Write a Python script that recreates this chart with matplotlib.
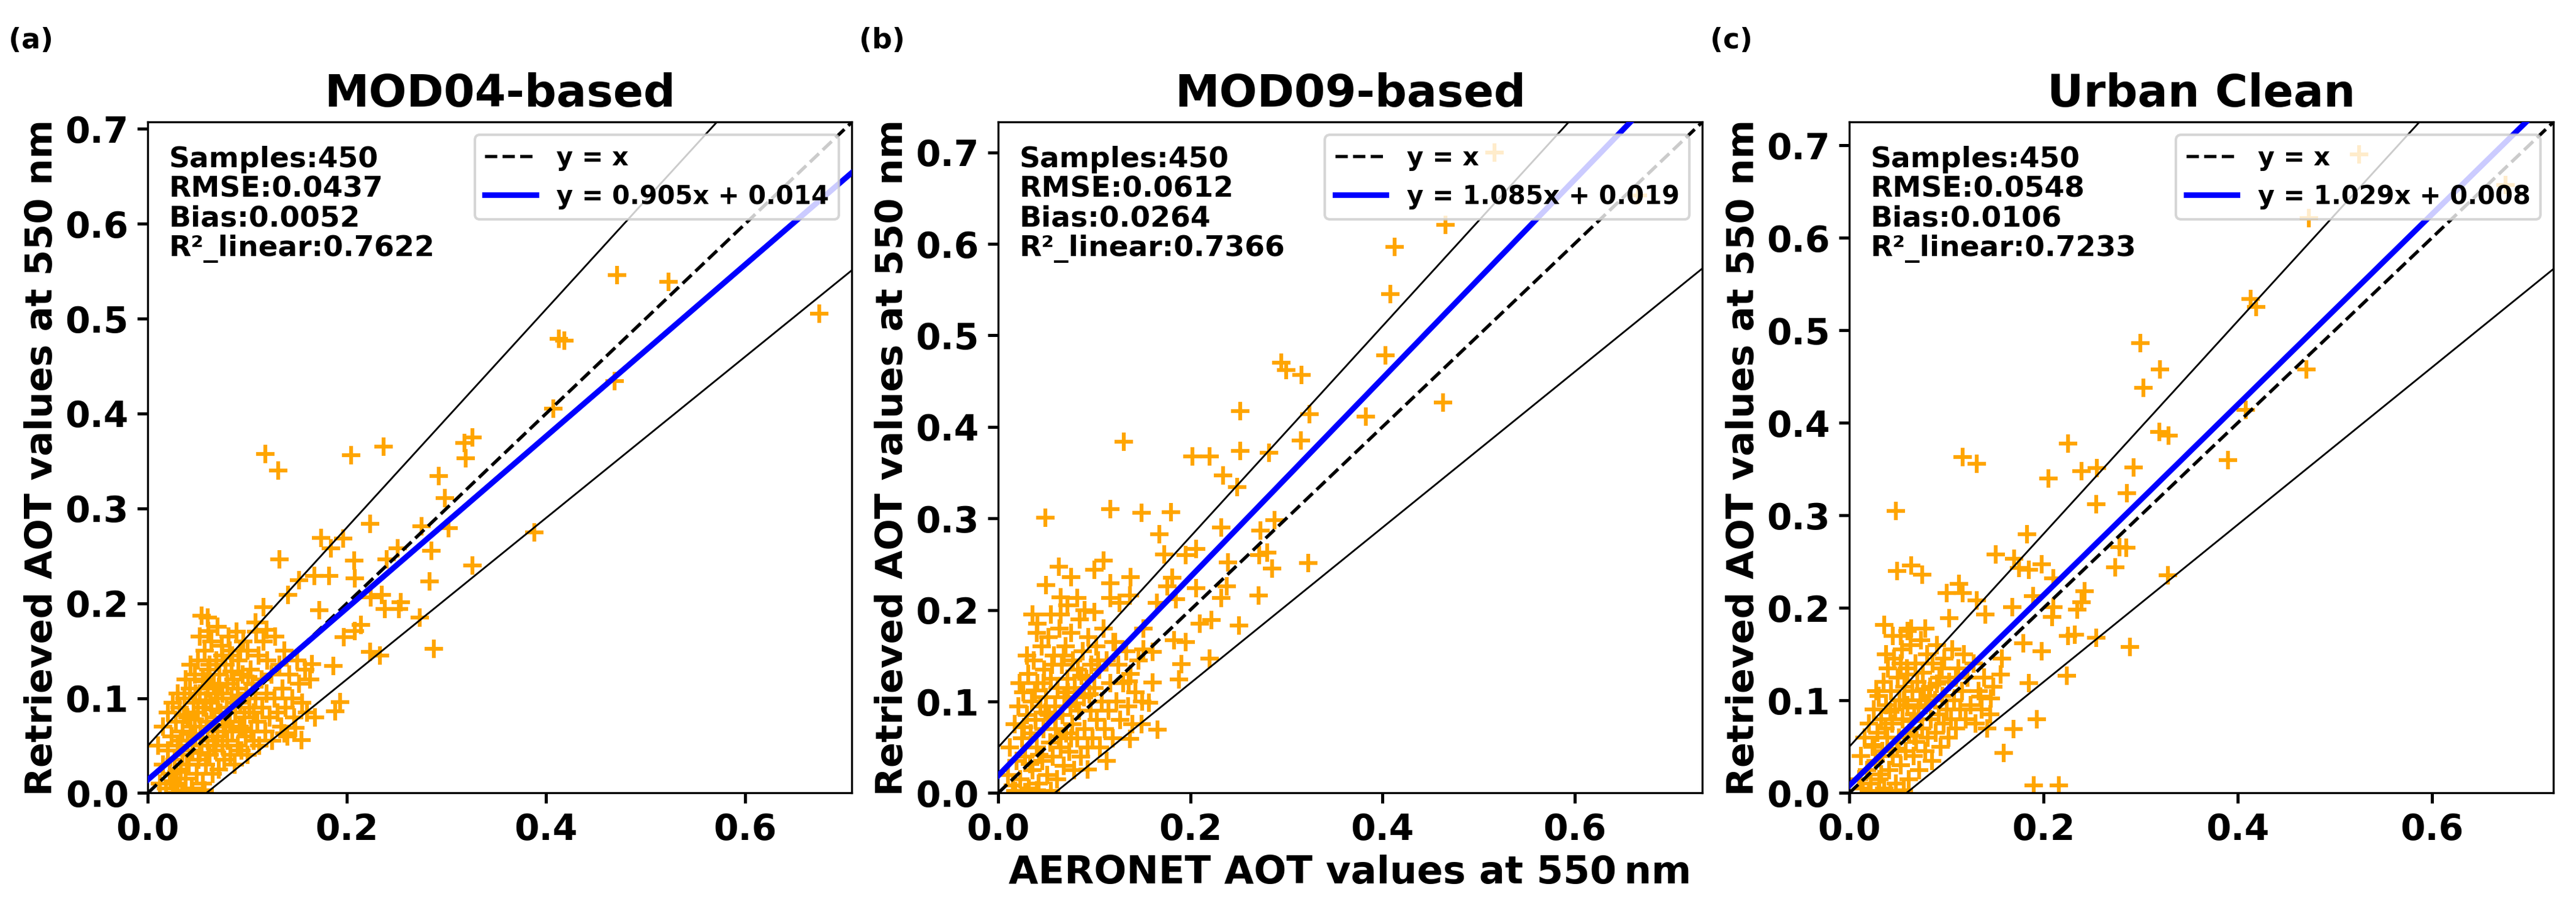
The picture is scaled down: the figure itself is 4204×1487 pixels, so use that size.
import matplotlib
matplotlib.use("Agg")
import matplotlib.pyplot as plt
import numpy as np

titles = ["MOD04-based", "MOD09-based", "Urban Clean"]
panel_tags = ["(a)", "(b)", "(c)"]
samples = [450, 450, 450]
rmse = ["0.0437", "0.0612", "0.0548"]
bias = ["0.0052", "0.0264", "0.0106"]
r2 = ["0.7622", "0.7366", "0.7233"]
slopes = [0.905, 1.085, 1.029]
intercepts = [0.014, 0.019, 0.008]
axis_max = [0.707, 0.733, 0.725]

# ---- panel (a) points ----
a_pts = [(0.118,0.357),(0.131,0.340),(0.204,0.356),(0.237,0.365),(0.318,0.369),(0.326,0.375),(0.319,0.353),
(0.292,0.334),(0.298,0.311),(0.223,0.284),(0.275,0.281),(0.302,0.279),(0.388,0.275),(0.174,0.269),(0.196,0.268),
(0.184,0.258),(0.251,0.258),(0.285,0.255),(0.132,0.246),(0.207,0.245),(0.240,0.246),(0.326,0.240),(0.167,0.229),
(0.182,0.229),(0.208,0.226),(0.152,0.224),(0.283,0.223),(0.141,0.209),(0.224,0.206),(0.235,0.209),(0.254,0.201),
(0.238,0.194),(0.252,0.194),(0.172,0.193),(0.116,0.196),(0.054,0.187),(0.273,0.185),(0.214,0.177),(0.208,0.171),
(0.108,0.180),(0.119,0.172),(0.061,0.171),(0.197,0.164),(0.287,0.152),(0.223,0.149),(0.233,0.145),(0.186,0.134),
(0.165,0.136),(0.193,0.096),(0.188,0.086),(0.168,0.080),(0.154,0.056),(0.148,0.069),(0.137,0.063),
(0.471,0.546),(0.523,0.539),(0.413,0.479),(0.418,0.477),(0.469,0.434),(0.407,0.405),(0.674,0.505),
(0.012,0.010),(0.015,0.030),(0.018,0.005),(0.020,0.045),(0.022,0.020),(0.024,0.060),(0.025,0.012),(0.027,0.035),
(0.028,0.075),(0.030,0.050),(0.030,0.008),(0.032,0.090),(0.033,0.025),(0.035,0.065),(0.035,0.040),(0.037,0.100),
(0.038,0.015),(0.040,0.080),(0.040,0.055),(0.041,0.030),(0.042,0.110),(0.043,0.070),(0.044,0.005),(0.045,0.045),
(0.046,0.095),(0.047,0.125),(0.048,0.060),(0.049,0.020),(0.050,0.085),(0.050,0.140),(0.051,0.035),(0.052,0.105),
(0.053,0.070),(0.054,0.050),(0.055,0.120),(0.055,0.010),(0.056,0.090),(0.057,0.150),(0.058,0.030),(0.059,0.075),
(0.060,0.110),(0.060,0.055),(0.061,0.130),(0.062,0.040),(0.063,0.095),(0.064,0.160),(0.065,0.065),(0.065,0.020),
(0.066,0.115),(0.067,0.080),(0.068,0.045),(0.069,0.140),(0.070,0.100),(0.070,0.060),(0.071,0.025),(0.072,0.125),
(0.073,0.085),(0.074,0.155),(0.075,0.050),(0.075,0.105),(0.076,0.070),(0.077,0.035),(0.078,0.135),(0.079,0.090),
(0.080,0.115),(0.080,0.055),(0.081,0.165),(0.082,0.075),(0.083,0.040),(0.084,0.100),(0.085,0.145),(0.085,0.065),
(0.086,0.120),(0.087,0.030),(0.088,0.085),(0.089,0.170),(0.090,0.050),(0.090,0.110),(0.091,0.140),(0.092,0.070),
(0.093,0.095),(0.094,0.045),(0.095,0.125),(0.096,0.160),(0.097,0.080),(0.098,0.060),(0.099,0.105),(0.100,0.150),
(0.100,0.040),(0.102,0.090),(0.103,0.130),(0.104,0.065),(0.105,0.115),(0.106,0.055),(0.108,0.100),(0.109,0.170),
(0.110,0.075),(0.111,0.145),(0.112,0.050),(0.114,0.120),(0.115,0.090),(0.116,0.160),(0.118,0.065),(0.119,0.105),
(0.120,0.140),(0.122,0.080),(0.124,0.125),(0.125,0.055),(0.127,0.100),(0.128,0.165),(0.130,0.085),(0.132,0.135),
(0.134,0.070),(0.135,0.110),(0.137,0.150),(0.138,0.090),(0.140,0.060),(0.142,0.125),(0.145,0.100),(0.147,0.080),
(0.150,0.140),(0.152,0.115),(0.155,0.095),(0.158,0.130),(0.160,0.085),(0.163,0.120),(0.010,0.050),(0.015,0.070),
(0.020,0.085),(0.026,0.000),(0.034,0.002),(0.045,0.002),(0.057,0.003),(0.038,0.120),(0.043,0.135),(0.070,0.175),
(0.060,0.185),(0.052,0.165),(0.030,0.105),(0.025,0.095),
(0.033,0.055),(0.047,0.078),(0.058,0.098),(0.064,0.088),(0.071,0.112),(0.078,0.072),(0.084,0.128),(0.066,0.050),
(0.052,0.042),(0.044,0.062),(0.039,0.030),(0.057,0.118),(0.062,0.135),(0.075,0.145),(0.088,0.095),(0.095,0.068),
(0.101,0.122),(0.093,0.150),(0.082,0.150),(0.068,0.105),(0.036,0.082),(0.029,0.022),(0.048,0.105),(0.106,0.085)]

# ---- panel (b) points ----
b_pts = [(0.049,0.301),(0.117,0.310),(0.149,0.306),(0.180,0.307),(0.131,0.384),(0.202,0.368),(0.220,0.368),
(0.252,0.417),(0.252,0.374),(0.234,0.347),(0.249,0.334),(0.282,0.372),(0.295,0.470),(0.300,0.462),(0.316,0.457),
(0.324,0.414),(0.315,0.385),(0.383,0.411),(0.403,0.478),(0.408,0.545),(0.413,0.597),(0.466,0.621),(0.463,0.427),
(0.517,0.700),(0.666,0.653),
(0.168,0.283),(0.232,0.290),(0.273,0.287),(0.288,0.298),(0.173,0.261),(0.195,0.260),(0.206,0.267),(0.239,0.252),
(0.272,0.260),(0.280,0.263),(0.285,0.245),(0.323,0.251),(0.063,0.247),(0.100,0.244),(0.110,0.254),(0.076,0.236),
(0.138,0.236),(0.050,0.227),(0.117,0.229),(0.181,0.235),(0.176,0.226),(0.206,0.224),(0.238,0.226),(0.232,0.213),
(0.271,0.216),(0.065,0.214),(0.082,0.213),(0.117,0.213),(0.137,0.216),(0.126,0.208),(0.165,0.208),(0.185,0.212),
(0.036,0.195),(0.100,0.198),(0.065,0.195),(0.041,0.185),(0.210,0.185),(0.222,0.189),(0.251,0.183),(0.151,0.180),
(0.183,0.167),(0.195,0.165),(0.122,0.165),(0.151,0.157),(0.161,0.154),(0.191,0.141),(0.220,0.147),(0.161,0.121),
(0.188,0.124),(0.157,0.099),(0.136,0.122),(0.149,0.075),(0.166,0.069),(0.137,0.059),(0.113,0.035),(0.093,0.026),
(0.010,0.020),(0.012,0.050),(0.015,0.008),(0.017,0.075),(0.019,0.035),(0.021,0.095),(0.023,0.015),(0.025,0.060),
(0.026,0.110),(0.028,0.040),(0.030,0.085),(0.031,0.130),(0.032,0.005),(0.034,0.065),(0.035,0.100),(0.036,0.025),
(0.037,0.145),(0.039,0.080),(0.040,0.050),(0.041,0.120),(0.042,0.010),(0.044,0.095),(0.045,0.160),(0.046,0.035),
(0.047,0.070),(0.048,0.135),(0.050,0.105),(0.051,0.020),(0.052,0.170),(0.053,0.085),(0.054,0.055),(0.055,0.125),
(0.057,0.040),(0.058,0.150),(0.059,0.095),(0.060,0.070),(0.061,0.015),(0.062,0.115),(0.064,0.180),(0.065,0.050),
(0.066,0.140),(0.067,0.085),(0.068,0.030),(0.069,0.105),(0.070,0.160),(0.071,0.065),(0.072,0.125),(0.074,0.045),
(0.075,0.095),(0.076,0.175),(0.077,0.075),(0.078,0.145),(0.079,0.025),(0.080,0.115),(0.082,0.060),(0.083,0.135),
(0.084,0.090),(0.085,0.190),(0.086,0.040),(0.088,0.155),(0.089,0.105),(0.090,0.070),(0.092,0.125),(0.093,0.050),
(0.094,0.170),(0.096,0.090),(0.097,0.140),(0.098,0.060),(0.100,0.115),(0.102,0.160),(0.103,0.080),(0.105,0.135),
(0.106,0.050),(0.108,0.100),(0.110,0.180),(0.111,0.070),(0.113,0.145),(0.115,0.090),(0.117,0.120),(0.119,0.060),
(0.120,0.165),(0.123,0.100),(0.125,0.140),(0.127,0.080),(0.130,0.120),(0.133,0.155),(0.135,0.095),(0.138,0.130),
(0.140,0.075),(0.143,0.110),(0.146,0.145),(0.150,0.100),(0.018,0.002),(0.028,0.001),(0.040,0.003),(0.055,0.002),
(0.022,0.120),(0.030,0.150),(0.040,0.175),(0.055,0.195),(0.072,0.205),(0.090,0.200),
(0.027,0.072),(0.038,0.112),(0.049,0.088),(0.056,0.140),(0.063,0.062),(0.073,0.110),(0.081,0.098),(0.087,0.128),
(0.043,0.042),(0.033,0.032),(0.059,0.082),(0.068,0.150),(0.095,0.108),(0.104,0.145),(0.076,0.060),(0.047,0.120)]

# ---- panel (c) points ----
c_pts = [(0.048,0.305),(0.117,0.363),(0.131,0.356),(0.049,0.240),(0.064,0.246),(0.075,0.236),(0.036,0.182),
(0.053,0.170),(0.064,0.178),(0.078,0.178),(0.100,0.216),(0.113,0.226),(0.117,0.216),(0.131,0.208),(0.103,0.189),
(0.140,0.193),(0.151,0.258),(0.170,0.253),(0.175,0.243),(0.185,0.241),(0.198,0.247),(0.183,0.280),(0.205,0.340),
(0.225,0.378),(0.239,0.348),(0.255,0.351),(0.293,0.352),(0.254,0.312),(0.286,0.324),(0.300,0.486),(0.320,0.458),
(0.303,0.438),(0.319,0.390),(0.329,0.386),(0.390,0.360),(0.408,0.414),(0.413,0.534),(0.419,0.525),(0.471,0.458),
(0.473,0.621),(0.525,0.690),(0.676,0.657),(0.210,0.232),(0.189,0.213),(0.210,0.201),(0.209,0.190),(0.235,0.198),
(0.242,0.218),(0.239,0.206),(0.274,0.244),(0.278,0.266),(0.285,0.265),(0.328,0.235),(0.168,0.201),(0.179,0.162),
(0.198,0.153),(0.225,0.170),(0.232,0.171),(0.254,0.168),(0.289,0.158),(0.224,0.127),(0.185,0.119),(0.193,0.080),
(0.159,0.043),(0.169,0.069),(0.190,0.008),(0.216,0.008),(0.157,0.145),(0.156,0.128),(0.146,0.102),(0.135,0.104),
(0.010,0.015),(0.012,0.040),(0.014,0.005),(0.016,0.060),(0.018,0.025),(0.020,0.075),(0.022,0.010),(0.024,0.050),
(0.025,0.090),(0.027,0.035),(0.029,0.065),(0.030,0.105),(0.031,0.015),(0.033,0.080),(0.034,0.045),(0.035,0.120),
(0.036,0.005),(0.038,0.095),(0.039,0.060),(0.040,0.135),(0.041,0.025),(0.043,0.110),(0.044,0.075),(0.045,0.040),
(0.046,0.145),(0.047,0.090),(0.048,0.010),(0.050,0.125),(0.051,0.060),(0.052,0.100),(0.053,0.030),(0.054,0.155),
(0.055,0.080),(0.057,0.115),(0.058,0.045),(0.059,0.135),(0.060,0.095),(0.061,0.015),(0.062,0.065),(0.063,0.160),
(0.065,0.110),(0.066,0.040),(0.067,0.085),(0.068,0.140),(0.069,0.055),(0.070,0.120),(0.072,0.025),(0.073,0.100),
(0.074,0.165),(0.075,0.070),(0.076,0.130),(0.078,0.045),(0.079,0.095),(0.080,0.150),(0.081,0.060),(0.083,0.115),
(0.084,0.080),(0.085,0.035),(0.086,0.140),(0.088,0.100),(0.089,0.065),(0.090,0.160),(0.092,0.085),(0.093,0.125),
(0.094,0.050),(0.096,0.105),(0.097,0.075),(0.098,0.145),(0.100,0.090),(0.102,0.060),(0.103,0.120),(0.105,0.080),
(0.106,0.155),(0.108,0.100),(0.110,0.070),(0.112,0.135),(0.114,0.090),(0.116,0.110),(0.118,0.150),(0.120,0.080),
(0.122,0.125),(0.125,0.095),(0.128,0.140),(0.130,0.075),(0.133,0.110),(0.136,0.090),(0.139,0.125),(0.142,0.070),
(0.145,0.085),(0.148,0.115),(0.020,0.002),(0.030,0.001),(0.042,0.002),(0.056,0.003),(0.045,0.170),(0.060,0.175),
(0.028,0.110),(0.038,0.150),
(0.026,0.052),(0.037,0.070),(0.049,0.048),(0.056,0.100),(0.064,0.078),(0.071,0.092),(0.082,0.105),(0.090,0.118),
(0.042,0.088),(0.033,0.020),(0.060,0.128),(0.077,0.112),(0.095,0.135),(0.067,0.062),(0.053,0.140),(0.110,0.125)]

all_pts = [a_pts, b_pts, c_pts]

plt.rcParams['font.family'] = ['DejaVu Sans']
plt.rcParams['font.weight'] = 'bold'
plt.rcParams['axes.labelweight'] = 'bold'
plt.rcParams['axes.titleweight'] = 'bold'

fig = plt.figure(figsize=(4204/300, 1487/300), dpi=300)
lefts = [0.0574, 0.3875, 0.7179]
for i in range(3):
    ax = fig.add_axes([lefts[i], 0.1295, 0.2733, 0.7364])
    pts = np.array(all_pts[i])
    m = axis_max[i]
    ax.scatter(pts[:, 0], pts[:, 1], marker='+', s=55, linewidths=1.5, color='orange', zorder=2)
    xx = np.linspace(0, m, 100)
    ax.plot(xx, xx, 'k--', lw=1.3, label='y = x', zorder=3)
    ax.plot(xx, slopes[i]*xx + intercepts[i], color='blue', lw=2.2,
            label=f'y = {slopes[i]:.3f}x + {intercepts[i]:.3f}', zorder=4)
    ax.plot(xx, xx + (0.05 + 0.15*xx), 'k-', lw=0.7, zorder=3)
    ax.plot(xx, xx - (0.05 + 0.15*xx), 'k-', lw=0.7, zorder=3)
    ax.set_xlim(0, m)
    ax.set_ylim(0, m)
    ax.set_xticks([0.0, 0.2, 0.4, 0.6])
    ax.set_yticks(np.arange(0, 0.71, 0.1))
    ax.tick_params(labelsize=14, width=1.2, length=4)
    for lab in ax.get_xticklabels() + ax.get_yticklabels():
        lab.set_fontweight('bold')
    ax.set_title(titles[i], fontsize=17.5, fontweight='bold', pad=6)
    ax.set_ylabel('Retrieved AOT values at 550 nm', fontsize=14.6, fontweight='bold', labelpad=2)
    if i == 1:
        ax.set_xlabel('AERONET AOT values at 550\u2009nm', fontsize=15, fontweight='bold', labelpad=3)
    ax.text(0.03, 0.965, f'Samples:{samples[i]}\nRMSE:{rmse[i]}\nBias:{bias[i]}\nR\u00b2_linear:{r2[i]}',
            transform=ax.transAxes, va='top', ha='left', fontsize=11.3, fontweight='bold', linespacing=1.1)
    ax.legend(loc='upper right', prop={'weight': 'bold', 'size': 10})
    fig.text(lefts[i] - 0.054, 0.955, panel_tags[i], fontsize=11, fontweight='bold', ha='left', va='center')

fig.savefig('out.png', dpi=300)
